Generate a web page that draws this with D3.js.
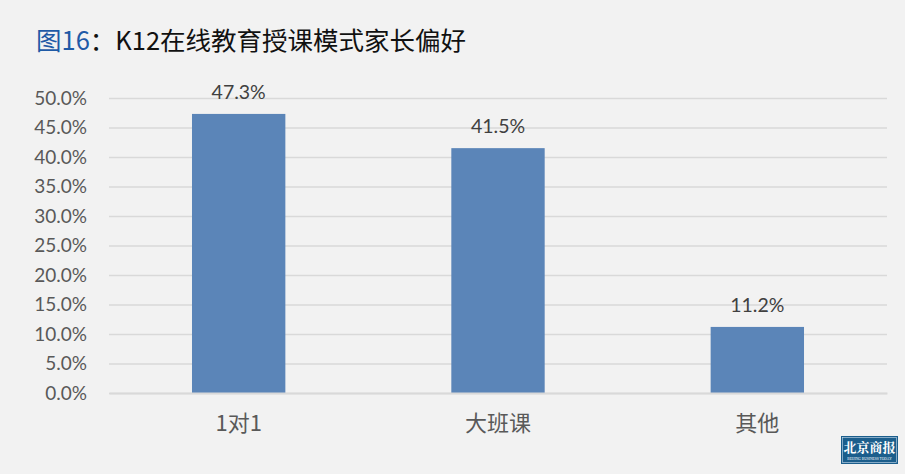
<!DOCTYPE html>
<html><head><meta charset="utf-8">
<script src="https://cdn.jsdelivr.net/npm/d3@7"></script>
<style>
html,body{margin:0;padding:0;background:#f2f2f2;}
svg{display:block;font-family:"Noto Sans CJK SC","Noto Sans",sans-serif;}
</style></head>
<body>
<svg id="c" width="905" height="474"></svg>
<script>
const categories = ["1对1", "大班课", "其他"];
const values = [47.3, 41.5, 11.2];
const yTicks = [0, 5, 10, 15, 20, 25, 30, 35, 40, 45, 50];
const titlePrefix = "图16";
const titleRest = "：K12在线教育授课模式家长偏好";

const svg = d3.select("#c");
const W = 905, H = 474;
svg.append("rect").attr("width", W).attr("height", H).attr("fill", "#f2f2f2");

const m = {left: 109, right: 887, top: 98, bottom: 393};
const x = d3.scaleBand().domain(categories).range([m.left, m.right]).paddingInner(0.64).paddingOuter(0.32);
const y = d3.scaleLinear().domain([0, 50]).range([m.bottom, m.top]);

// title
const t = svg.append("text").attr("x", 36).attr("y", 50).attr("font-size", 25.5);
t.append("tspan").attr("fill", "#1f5aa6").text(titlePrefix);
t.append("tspan").attr("fill", "#111").text(titleRest);

// gridlines
const yAxis = d3.axisLeft(y).tickValues(yTicks).tickSize(-(m.right - m.left)).tickFormat(d => d.toFixed(1) + "%").tickPadding(22);
const ga = svg.append("g").attr("transform", `translate(${m.left},0)`).call(yAxis);
ga.select(".domain").remove();
ga.selectAll(".tick line").attr("stroke", "#d9d9d9").attr("stroke-width", 1.3);
ga.selectAll(".tick text").attr("fill", "#595959").attr("font-size", 19).attr("font-family", "Lato, 'Open Sans', sans-serif");

// bars
svg.selectAll("rect.bar").data(values).enter().append("rect")
  .attr("class", "bar")
  .attr("x", (d, i) => x(categories[i]))
  .attr("width", x.bandwidth())
  .attr("y", d => y(d))
  .attr("height", d => y(0) - y(d))
  .attr("fill", "#5b85b8");

// baseline axis
const xa = d3.axisBottom(x).tickSize(0).tickPadding(22);
const gx = svg.append("g").attr("transform", `translate(0,${y(0)})`).call(xa);
gx.select(".domain").attr("stroke", "#d9d9d9").attr("stroke-width", 2);
gx.selectAll(".tick text").attr("fill", "#595959").attr("font-size", 22).attr("dy", null).attr("y", 38).attr("font-family", "'Noto Sans CJK SC', sans-serif");

// labels
svg.selectAll("text.lbl").data(values).enter().append("text")
  .attr("class", "lbl")
  .attr("x", (d, i) => x(categories[i]) + x.bandwidth() / 2)
  .attr("y", d => y(d) - 15)
  .attr("text-anchor", "middle")
  .attr("fill", "#404040")
  .attr("font-size", 19.5)
  .attr("font-family", "Lato, 'Open Sans', sans-serif")
  .text(d => d.toFixed(1) + "%");

// logo
const lg = svg.append("g").attr("transform", "translate(841,436)");
lg.append("rect").attr("width", 57).attr("height", 28).attr("fill", "#1b5e8c");
lg.append("rect").attr("x", 1.5).attr("y", 1.5).attr("width", 54).attr("height", 25).attr("fill", "none").attr("stroke", "#cfe0ee").attr("stroke-width", 0.6);
lg.append("text").attr("x", 28.5).attr("y", 16).attr("text-anchor", "middle").attr("fill", "#fff").attr("font-size", 13).attr("font-weight", "bold").attr("font-family", "'Noto Serif CJK SC','Noto Sans CJK SC',serif").text("北京商报");
lg.append("text").attr("x", 28.5).attr("y", 23.5).attr("text-anchor", "middle").attr("fill", "#fff").attr("font-size", 3.6).attr("font-family", "serif").text("BEIJING BUSINESS TODAY");
</script>
</body></html>
